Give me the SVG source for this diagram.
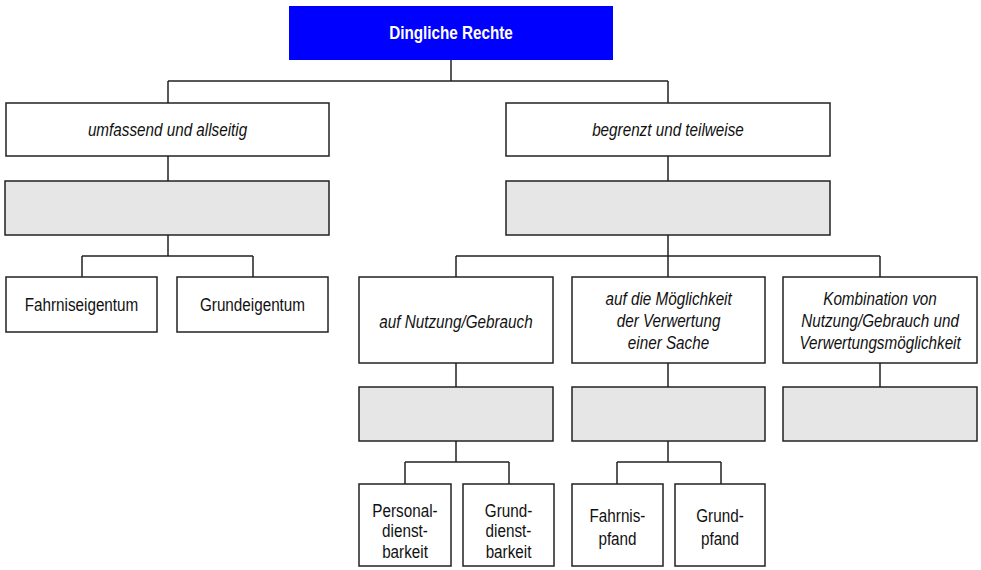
<svg xmlns="http://www.w3.org/2000/svg" width="981" height="570" viewBox="0 0 981 570">
<style>
.box{fill:#ffffff;stroke:#222222;stroke-width:1.5}
.gray{fill:#e6e6e6;stroke:#222222;stroke-width:1.5}
.title{fill:#0000ff;stroke:none}
.t{font-family:"Liberation Sans",Arial,sans-serif;font-size:18.5px;fill:#111111;text-anchor:middle;transform-box:fill-box;transform-origin:center;transform:scaleX(0.825)}
.i{font-style:italic}
.tt{font-weight:bold;fill:#ffffff}
.c{fill:none;stroke:#222222;stroke-width:1.5}
</style>
<rect width="981" height="570" fill="#ffffff"/>
<g id="connectors">
<path class="c" d="M451,60V81M168,81H668M168,81V103M668,81V103"/>
<path class="c" d="M168,156V181M168,235V256M82,256H253M82,256V277M253,256V277"/>
<path class="c" d="M668,156V181M668,235V256M456,256H880M456,256V277M668,256V277M880,256V277"/>
<path class="c" d="M456,363V387M668,363V387M880,363V387"/>
<path class="c" d="M456,441V462M405,462H509M405,462V484M509,462V484"/>
<path class="c" d="M668,441V462M617,462H721M617,462V484M721,462V484"/>
</g>
<g id="n-dingliche-rechte">
<rect class="title" x="289" y="6" width="324" height="54"/>
<text class="t tt" x="451" y="39.5">Dingliche Rechte</text>
</g>
<g id="n-umfassend">
<rect class="box" x="6" y="103" width="323" height="53"/>
<text class="t i" x="167.5" y="136">umfassend und allseitig</text>
</g>
<g id="n-umfassend-gray">
<rect class="gray" x="5" y="181" width="324" height="54"/>
</g>
<g id="n-fahrniseigentum">
<rect class="box" x="6" y="277" width="151" height="55"/>
<text class="t" x="81.5" y="311">Fahrniseigentum</text>
</g>
<g id="n-grundeigentum">
<rect class="box" x="177" y="277" width="151" height="55"/>
<text class="t" x="252.5" y="311">Grundeigentum</text>
</g>
<g id="n-begrenzt">
<rect class="box" x="506" y="103" width="324" height="53"/>
<text class="t i" x="668" y="136">begrenzt und teilweise</text>
</g>
<g id="n-begrenzt-gray">
<rect class="gray" x="506" y="181" width="324" height="54"/>
</g>
<g id="n-nutzung">
<rect class="box" x="359" y="277" width="194" height="86"/>
<text class="t i" x="456" y="328">auf Nutzung/Gebrauch</text>
</g>
<g id="n-verwertung">
<rect class="box" x="572" y="277" width="193" height="86"/>
<text class="t i" x="668.5" y="305">auf die Möglichkeit</text>
<text class="t i" x="668.5" y="327">der Verwertung</text>
<text class="t i" x="668.5" y="349">einer Sache</text>
</g>
<g id="n-kombination">
<rect class="box" x="783" y="277" width="194" height="86"/>
<text class="t i" x="880" y="305">Kombination von</text>
<text class="t i" x="880" y="327">Nutzung/Gebrauch und</text>
<text class="t i" x="880" y="349">Verwertungsmöglichkeit</text>
</g>
<g id="n-nutzung-gray">
<rect class="gray" x="359" y="387" width="194" height="54"/>
</g>
<g id="n-verwertung-gray">
<rect class="gray" x="572" y="387" width="193" height="54"/>
</g>
<g id="n-kombination-gray">
<rect class="gray" x="783" y="387" width="194" height="54"/>
</g>
<g id="n-personaldienstbarkeit">
<rect class="box" x="359" y="484" width="92" height="82"/>
<text class="t" x="405" y="517">Personal-</text>
<text class="t" x="405" y="537.5">dienst-</text>
<text class="t" x="405" y="558">barkeit</text>
</g>
<g id="n-grunddienstbarkeit">
<rect class="box" x="463" y="484" width="91" height="82"/>
<text class="t" x="508.5" y="517">Grund-</text>
<text class="t" x="508.5" y="537.5">dienst-</text>
<text class="t" x="508.5" y="558">barkeit</text>
</g>
<g id="n-fahrnispfand">
<rect class="box" x="572" y="484" width="91" height="82"/>
<text class="t" x="617.5" y="522.5">Fahrnis-</text>
<text class="t" x="617.5" y="545">pfand</text>
</g>
<g id="n-grundpfand">
<rect class="box" x="675" y="484" width="90" height="82"/>
<text class="t" x="720" y="522.5">Grund-</text>
<text class="t" x="720" y="545">pfand</text>
</g>
</svg>
